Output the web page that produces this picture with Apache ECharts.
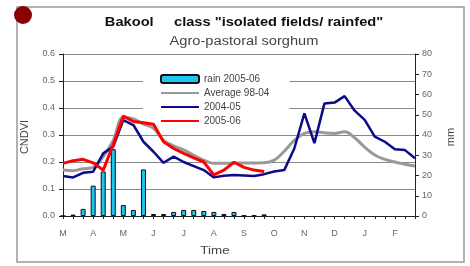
<!DOCTYPE html>
<html>
<head>
<meta charset="utf-8">
<script src="https://cdn.jsdelivr.net/npm/echarts@6/dist/echarts.min.js"></script>
<style>
  html, body { margin: 0; padding: 0; background: #fff; }
  #chart { width: 470px; height: 266px; }
</style>
</head>
<body>
<div id="chart"></div>
<script>
// Dekads from March to February (3 per month)
const months = ['M', 'A', 'M', 'J', 'J', 'A', 'S', 'O', 'N', 'D', 'J', 'F'];
const dekads = months.flatMap(m => [m, m, m]);

// Rainfall 2005-06 (mm, right axis)
const rain0506 = [0, 0.7, 3.5, 15, 22, 33, 5.4, 3, 23, 1, 1, 2, 3, 3, 2.5, 2, 1, 2, 0.3, 0.3, 0.8,
    null, null, null, null, null, null, null, null, null, null, null, null, null, null, null];

// CNDVI series
const avg9804 = [0.17, 0.168, 0.175, 0.18, 0.22, 0.28, 0.365, 0.36, 0.34, 0.325, 0.28, 0.26,
    0.245, 0.225, 0.207, 0.195, 0.195, 0.196, 0.196, 0.196, 0.197, 0.207, 0.24, 0.28,
    0.306, 0.312, 0.308, 0.306, 0.312, 0.29, 0.255, 0.226, 0.21, 0.2, 0.192, 0.185];
const ndvi0405 = [0.148, 0.143, 0.16, 0.164, 0.232, 0.257, 0.355, 0.337, 0.275, 0.238, 0.197, 0.22,
    0.2, 0.185, 0.17, 0.143, 0.149, 0.152, 0.15, 0.148, 0.155, 0.165, 0.17, 0.25,
    0.38, 0.27, 0.417, 0.42, 0.444, 0.39, 0.356, 0.294, 0.275, 0.247, 0.244, 0.214];
const ndvi0506 = [0.195, 0.205, 0.21, 0.197, 0.17, 0.265, 0.37, 0.35, 0.345, 0.34, 0.275, 0.25,
    0.232, 0.215, 0.2, 0.152, 0.17, 0.199, 0.18, 0.17, 0.165];

const leftTicks = { min: 0, max: 0.6, interval: 0.1 };
const rightTicks = { min: 0, max: 80, interval: 10 };

const chart = echarts.init(document.getElementById('chart'));

const tickFont = { fontFamily: 'Liberation Sans', fontSize: 9, color: '#666' };
// the original picture is a bit stretched sideways
const stretch = 1.22;

function label(text, x, y, font, fill, rotation) {
    return {
        type: 'text', x: x, y: y, rotation: rotation || 0,
        scaleX: rotation ? 1 : stretch,
        style: { text: text, font: font, fill: fill, align: 'center', verticalAlign: 'middle' }
    };
}

chart.setOption({
    animation: false,
    grid: { left: 63, right: 55, top: 54, bottom: 50 },
    graphic: [
        { type: 'rect', shape: { x: 17, y: 7, width: 447, height: 255 },
          style: { fill: 'none', stroke: '#999', lineWidth: 1.5 }, z: -1 },
        { type: 'circle', shape: { cx: 23, cy: 15, r: 9 }, style: { fill: '#8b0000' }, z: 10 },
        label('Bakool     class "isolated fields/ rainfed"', 244, 23, 'bold 12px "Liberation Sans"', '#111'),
        label('Agro-pastoral sorghum', 244, 42, '12px "Liberation Sans"', '#444'),
        label('Time', 215, 251, '11px "Liberation Sans"', '#444'),
        label('CNDVI', 25, 137, '11px "Liberation Sans"', '#444', Math.PI / 2),
        label('mm', 451, 137, '11px "Liberation Sans"', '#444', Math.PI / 2)
    ],
    legend: {
        orient: 'vertical',
        left: 143,
        top: 70,
        z: 1,
        padding: [4, 20, 4, 17],
        backgroundColor: '#fff',
        itemWidth: 38,
        itemHeight: 8,
        itemGap: 4,
        textStyle: { fontFamily: 'Liberation Sans', fontSize: 10, color: '#444' },
        data: [
            { name: 'rain 2005-06' },
            { name: 'Average 98-04', itemStyle: { opacity: 0 } },
            { name: '2004-05', itemStyle: { opacity: 0 } },
            { name: '2005-06', itemStyle: { opacity: 0 } }
        ]
    },
    xAxis: {
        type: 'category',
        data: dekads,
        boundaryGap: false,
        axisLine: { lineStyle: { color: '#222' } },
        axisTick: { interval: 0, length: 3, lineStyle: { color: '#222' } },
        axisLabel: { interval: 2, margin: 13, ...tickFont },
        splitLine: { show: false }
    },
    yAxis: [
        {
            type: 'value', ...leftTicks,
            axisLine: { show: true, lineStyle: { color: '#222' } },
            axisTick: { show: true, length: 4, lineStyle: { color: '#222' } },
            axisLabel: { margin: 8, formatter: v => v.toFixed(1), ...tickFont },
            splitLine: { lineStyle: { color: '#888' } }
        },
        {
            type: 'value', ...rightTicks,
            axisLine: { show: true, lineStyle: { color: '#222' } },
            axisTick: { show: true, length: 4, lineStyle: { color: '#222' } },
            axisLabel: { margin: 7, ...tickFont },
            splitLine: { show: false }
        }
    ],
    series: [
        {
            name: 'rain 2005-06', type: 'bar', yAxisIndex: 1, data: rain0506, barWidth: 5, z: 3,
            itemStyle: { color: '#1cc6f0', borderColor: '#111', borderWidth: 1 }
        },
        {
            name: 'Average 98-04', type: 'line', data: avg9804, smooth: 0.4, symbol: 'none', z: 3,
            itemStyle: { color: '#999' }, lineStyle: { color: '#999', width: 3 }
        },
        {
            name: '2004-05', type: 'line', data: ndvi0405, symbol: 'none', z: 3,
            itemStyle: { color: '#0a0a8a' }, lineStyle: { color: '#0a0a8a', width: 2.5 }
        },
        {
            name: '2005-06', type: 'line', data: ndvi0506, symbol: 'none', z: 3,
            itemStyle: { color: '#ff0000' }, lineStyle: { color: '#ff0000', width: 3 }
        }
    ]
});

window.addEventListener('resize', () => chart.resize());
</script>
</body>
</html>
